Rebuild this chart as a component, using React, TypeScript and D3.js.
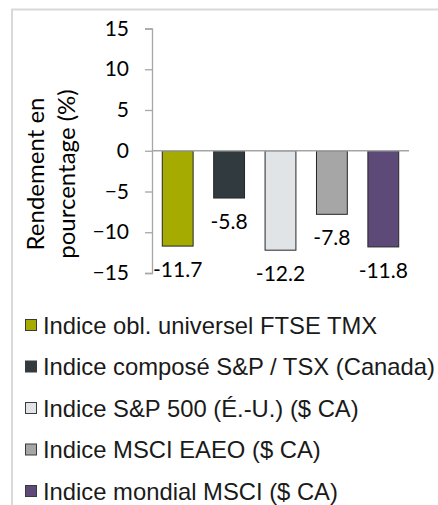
import React, { useEffect, useRef } from 'react';
import * as d3 from 'd3';

const categories = [
  'Indice obl. universel FTSE TMX',
  'Indice composé S&P / TSX (Canada)',
  'Indice S&P 500 (É.-U.) ($ CA)',
  'Indice MSCI EAEO ($ CA)',
  'Indice mondial MSCI ($ CA)',
];
const returns = [-11.7, -5.8, -12.2, -7.8, -11.8];
const colors = ['#a5ab00', '#313a3f', '#e0e4e7', '#a6a6a6', '#5e4a78'];
const yTicks = [15, 10, 5, 0, -5, -10, -15];
const titleLines = ['Rendement en', 'pourcentage (%)'];

const W = 438;
const H = 505;

const App: React.FC = () => {
  const svgRef = useRef<SVGSVGElement>(null);

  useEffect(() => {
    if (!svgRef.current) return;
    const svg = d3.select(svgRef.current);
    svg.selectAll('*').remove();

    const chartFont = 'Lato, "Noto Sans", sans-serif';
    const legendFont = '"Liberation Sans", Arial, sans-serif';

    // outer frame (cropped on the right and bottom)
    svg.append('rect')
      .attr('x', 12).attr('y', 9.5)
      .attr('width', W).attr('height', H)
      .attr('fill', 'none')
      .attr('stroke', '#d9d9d9')
      .attr('stroke-width', 2);

    const left = 152;
    const right = 409;

    const x = d3.scaleBand<number>()
      .domain(d3.range(returns.length))
      .range([left, right])
      .paddingInner(0.4)
      .paddingOuter(0.2);

    const y = d3.scaleLinear().domain([-15, 15]).range([273, 28.5]);

    // y axis
    const yAxis = svg.append('g')
      .attr('transform', `translate(${left},0)`)
      .call(d3.axisLeft(y).tickValues(yTicks).tickSize(7).tickPadding(16).tickFormat(d3.format('d')));
    yAxis.select('.domain').attr('stroke', '#a6a6a6').attr('stroke-width', 1.3);
    yAxis.selectAll('.tick line').attr('stroke', '#a6a6a6').attr('stroke-width', 1.3);
    yAxis.selectAll('.tick text')
      .attr('fill', '#000')
      .style('font-family', chartFont)
      .style('font-size', '21px');

    // bars
    svg.append('g')
      .selectAll('rect')
      .data(returns)
      .enter().append('rect')
      .attr('x', (_, i) => x(i) || 0)
      .attr('width', x.bandwidth())
      .attr('y', d => y(Math.max(0, d)))
      .attr('height', d => Math.abs(y(d) - y(0)))
      .attr('fill', (_, i) => colors[i])
      .attr('stroke', '#262626')
      .attr('stroke-width', 1);

    // zero line
    svg.append('line')
      .attr('x1', left).attr('x2', right)
      .attr('y1', y(0)).attr('y2', y(0))
      .attr('stroke', '#a6a6a6')
      .attr('stroke-width', 1.3);

    // value labels
    svg.append('g')
      .selectAll('text')
      .data(returns)
      .enter().append('text')
      .attr('x', (_, i) => (x(i) || 0) + x.bandwidth() / 2)
      .attr('y', d => y(d) + 31)
      .attr('text-anchor', 'middle')
      .style('font-family', chartFont)
      .style('font-size', '21px')
      .text(d => d.toFixed(1));

    // y title
    const title = svg.append('text')
      .attr('transform', 'translate(44,174) rotate(-90)')
      .attr('text-anchor', 'middle')
      .style('font-family', chartFont)
      .style('font-size', '24px');
    title.selectAll('tspan')
      .data(titleLines)
      .enter().append('tspan')
      .attr('x', 0)
      .attr('dy', (_, i) => (i === 0 ? 0 : 31))
      .text(d => d);

    // legend
    const legend = svg.append('g')
      .selectAll('g')
      .data(categories)
      .enter().append('g')
      .attr('transform', (_, i) => `translate(25,${325 + i * 41.5})`);
    legend.append('rect')
      .attr('x', 0.5).attr('y', -5.5)
      .attr('width', 11).attr('height', 11)
      .attr('fill', (_, i) => colors[i])
      .attr('stroke', '#3a3a3a')
      .attr('stroke-width', 1);
    legend.append('text')
      .attr('x', 18)
      .attr('y', 8.5)
      .style('font-family', legendFont)
      .style('font-size', '23.8px')
      .attr('fill', '#1a1a1a')
      .text(d => d);
  }, []);

  return (
    <svg
      ref={svgRef}
      width={W}
      height={H}
      style={{ position: 'absolute', left: 0, top: 0, background: '#fff' }}
    />
  );
};

export default App;
